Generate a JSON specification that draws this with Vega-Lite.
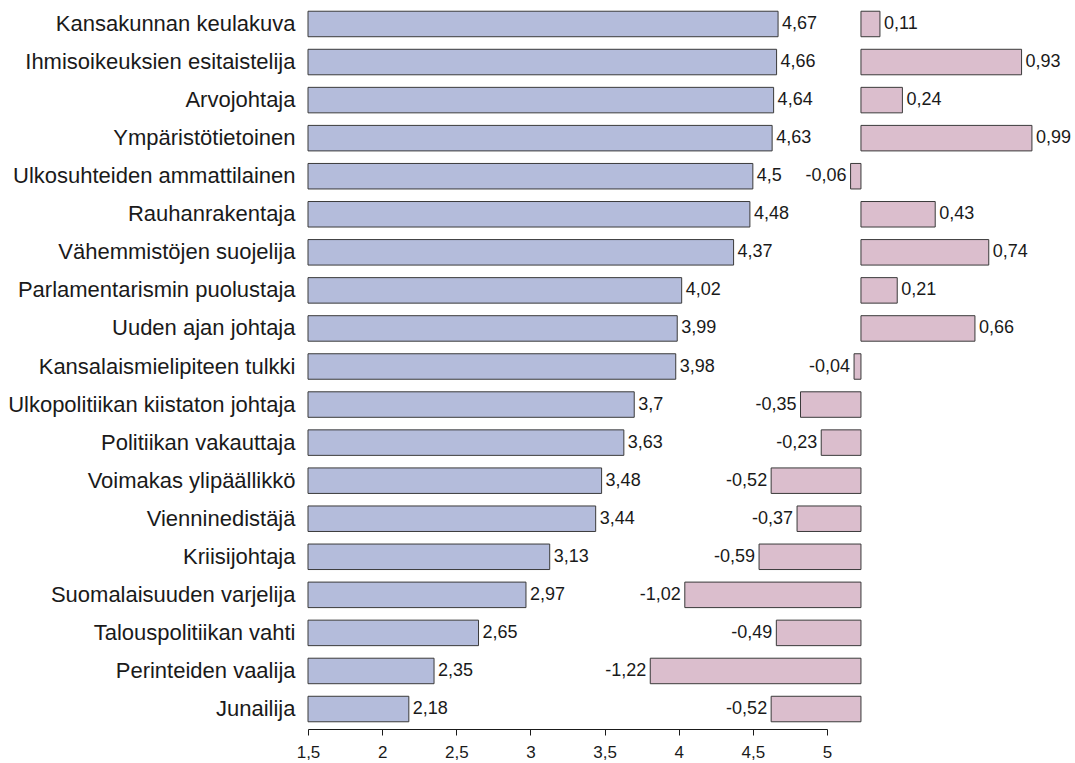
{
  "$schema": "https://vega.github.io/schema/vega-lite/v6.json",
  "autosize": "none",
  "padding": {"left": 308, "top": 4, "right": 7, "bottom": 34},
  "width": 760,
  "height": 725,
  "config": {
    "view": {"stroke": null},
    "locale": {"number": {"decimal": ",", "thousands": " ", "grouping": [3], "currency": ["", " €"], "minus": "-"}},
    "font": "Liberation Sans",
    "axisX": {"labelFontSize": 17, "labelColor": "#1a1a1a", "labelPadding": 9, "tickSize": 6}
  },
  "data": {
    "values": [
      {"rooli": "Kansakunnan keulakuva", "ka": 4.67, "ero": 0.11},
      {"rooli": "Ihmisoikeuksien esitaistelija", "ka": 4.66, "ero": 0.93},
      {"rooli": "Arvojohtaja", "ka": 4.64, "ero": 0.24},
      {"rooli": "Ympäristötietoinen", "ka": 4.63, "ero": 0.99},
      {"rooli": "Ulkosuhteiden ammattilainen", "ka": 4.5, "ero": -0.06},
      {"rooli": "Rauhanrakentaja", "ka": 4.48, "ero": 0.43},
      {"rooli": "Vähemmistöjen suojelija", "ka": 4.37, "ero": 0.74},
      {"rooli": "Parlamentarismin puolustaja", "ka": 4.02, "ero": 0.21},
      {"rooli": "Uuden ajan johtaja", "ka": 3.99, "ero": 0.66},
      {"rooli": "Kansalaismielipiteen tulkki", "ka": 3.98, "ero": -0.04},
      {"rooli": "Ulkopolitiikan kiistaton johtaja", "ka": 3.7, "ero": -0.35},
      {"rooli": "Politiikan vakauttaja", "ka": 3.63, "ero": -0.23},
      {"rooli": "Voimakas ylipäällikkö", "ka": 3.48, "ero": -0.52},
      {"rooli": "Vienninedistäjä", "ka": 3.44, "ero": -0.37},
      {"rooli": "Kriisijohtaja", "ka": 3.13, "ero": -0.59},
      {"rooli": "Suomalaisuuden varjelija", "ka": 2.97, "ero": -1.02},
      {"rooli": "Talouspolitiikan vahti", "ka": 2.65, "ero": -0.49},
      {"rooli": "Perinteiden vaalija", "ka": 2.35, "ero": -1.22},
      {"rooli": "Junailija", "ka": 2.18, "ero": -0.52}
    ]
  },
  "encoding": {
    "y": {
      "field": "rooli", "type": "nominal", "sort": null,
      "scale": {"paddingInner": 0.33, "paddingOuter": 0.19},
      "axis": {"title": null, "domain": false, "ticks": false, "labelPadding": 13,
               "labelFont": "Liberation Sans", "labelFontSize": 22, "labelColor": "#1a1a1a", "labelLimit": 400}
    }
  },
  "layer": [
    {
      "layer": [
        {
          "mark": {"type": "bar", "fill": "#b4bcdb", "stroke": "#3a3a3a", "strokeWidth": 1},
          "encoding": {
            "x": {"field": "ka", "type": "quantitative",
                  "scale": {"domain": [1.5, 5], "range": [0, 519], "zero": false, "nice": false},
                  "axis": {"title": null, "values": [1.5, 2, 2.5, 3, 3.5, 4, 4.5, 5], "format": "~g",
                           "grid": false, "domainColor": "#1a1a1a", "tickColor": "#1a1a1a", "tickSize": 6,
                           "labelFontSize": 17, "labelColor": "#1a1a1a", "labelPadding": 9, "labelFlush": false}},
            "x2": {"datum": 1.5}
          }
        },
        {
          "mark": {"type": "text", "align": "left", "baseline": "middle", "dx": 4, "fontSize": 18, "fill": "#1a1a1a"},
          "encoding": {
            "x": {"field": "ka", "type": "quantitative"},
            "text": {"field": "ka", "type": "quantitative", "format": "~g"}
          }
        }
      ]
    },
    {
      "layer": [
        {
          "mark": {"type": "bar", "fill": "#dbbecd", "stroke": "#3a3a3a", "strokeWidth": 1},
          "encoding": {
            "x": {"field": "ero", "type": "quantitative",
                  "scale": {"domain": [-1.5, 1.2], "range": [293.9, 760.2], "zero": false, "nice": false},
                  "axis": null},
            "x2": {"datum": 0}
          }
        },
        {
          "transform": [{"filter": "datum.ero >= 0"}],
          "mark": {"type": "text", "align": "left", "baseline": "middle", "dx": 4, "fontSize": 18, "fill": "#1a1a1a"},
          "encoding": {
            "x": {"field": "ero", "type": "quantitative"},
            "text": {"field": "ero", "type": "quantitative", "format": "~g"}
          }
        },
        {
          "transform": [{"filter": "datum.ero < 0"}],
          "mark": {"type": "text", "align": "right", "baseline": "middle", "dx": -4, "fontSize": 18, "fill": "#1a1a1a"},
          "encoding": {
            "x": {"field": "ero", "type": "quantitative"},
            "text": {"field": "ero", "type": "quantitative", "format": "~g"}
          }
        }
      ]
    }
  ],
  "resolve": {"scale": {"x": "independent"}, "axis": {"x": "independent"}}
}
